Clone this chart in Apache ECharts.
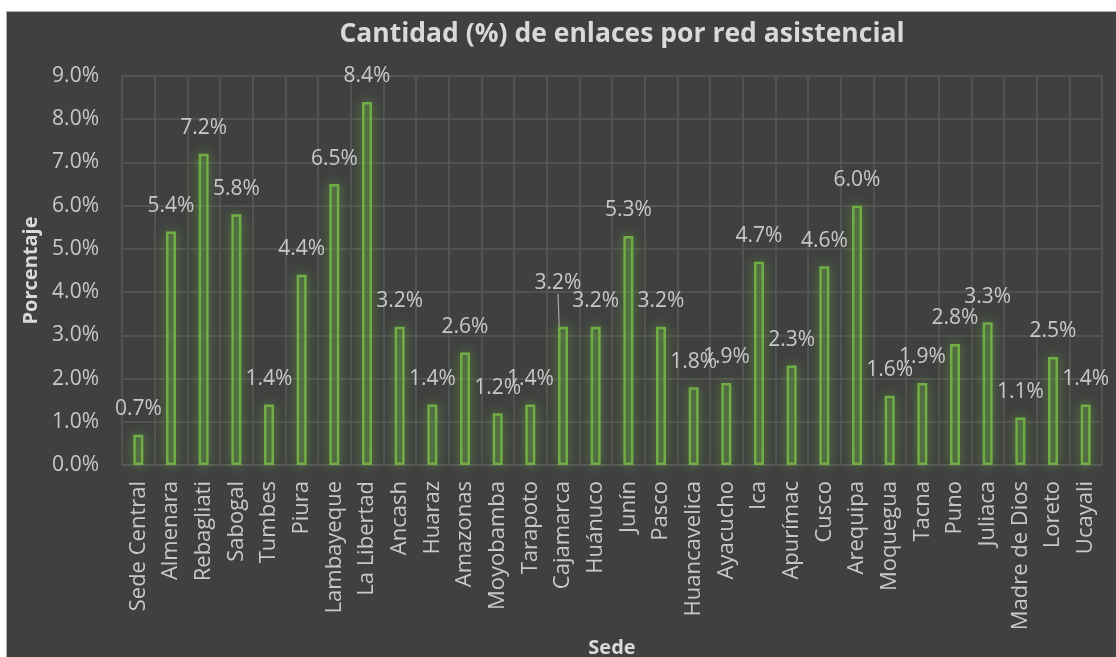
<!DOCTYPE html>
<html>
<head>
<meta charset="utf-8">
<script src="https://cdn.jsdelivr.net/npm/echarts@6/dist/echarts.min.js"></script>
<style>
  html, body { margin: 0; padding: 0; background: #ffffff; width: 1116px; height: 657px; overflow: hidden; }
  #panel { position: absolute; left: 6px; top: 11px; width: 1120px; height: 660px; background: #404040; border-left: 1px solid #b0b0b0; border-top: 1px solid #b0b0b0; }
  #chart { position: absolute; left: 0; top: 0; width: 1116px; height: 657px; }
</style>
</head>
<body>
<div id="panel"></div>
<div id="chart"></div>
<script>
const categories = ["Sede Central","Almenara","Rebagliati","Sabogal","Tumbes","Piura","Lambayeque","La Libertad","Ancash","Huaraz","Amazonas","Moyobamba","Tarapoto","Cajamarca","Huánuco","Junín","Pasco","Huancavelica","Ayacucho","Ica","Apurímac","Cusco","Arequipa","Moquegua","Tacna","Puno","Juliaca","Madre de Dios","Loreto","Ucayali"];
const percentages = [0.7,5.4,7.2,5.8,1.4,4.4,6.5,8.4,3.2,1.4,2.6,1.2,1.4,3.2,3.2,5.3,3.2,1.8,1.9,4.7,2.3,4.6,6.0,1.6,1.9,2.8,3.3,1.1,2.5,1.4];
const titleText = "Cantidad (%) de enlaces por red asistencial";
const xAxisTitle = "Sede";
const yAxisTitle = "Porcentaje";
const movedLabelCategory = "Cajamarca";

const chart = echarts.init(document.getElementById('chart'), null, { renderer: 'canvas' });
const font = '"Open Sans", sans-serif';
const textColor = '#c8c8c8';
const movedIndex = categories.indexOf(movedLabelCategory);
const barData = percentages.map((v, i) => i === movedIndex
  ? { value: v, labelLine: { show: true, lineStyle: { color: '#a6a6a6', width: 1.2 } } }
  : { value: v });

chart.setOption({
  backgroundColor: 'transparent',
  animation: false,
  title: {
    text: titleText,
    left: 617, top: 16, textAlign: 'center',
    textStyle: { color: '#d9d9d9', fontFamily: font, fontWeight: 'bold', fontSize: 26.5 }
  },
  grid: { left: 122, right: 14, top: 76, bottom: 192, containLabel: false, outerBoundsMode: 'none' },
  xAxis: {
    type: 'category',
    data: categories,
    name: xAxisTitle,
    nameLocation: 'middle',
    nameGap: 172,
    nameTextStyle: { color: '#d9d9d9', fontFamily: font, fontWeight: 'bold', fontSize: 20 },
    axisLine: { show: true, lineStyle: { color: '#595959', width: 1.5 } },
    axisTick: { show: false },
    splitLine: { show: true, lineStyle: { color: '#595959', width: 1.5 } },
    axisLabel: { rotate: 90, color: textColor, fontFamily: font, fontSize: 22, margin: 16, interval: 0 }
  },
  yAxis: {
    type: 'value',
    min: 0, max: 9, interval: 1,
    name: yAxisTitle,
    nameLocation: 'middle',
    nameGap: 78,
    nameTextStyle: { color: '#d9d9d9', fontFamily: font, fontWeight: 'bold', fontSize: 20 },
    axisLine: { show: false },
    axisTick: { show: false },
    splitLine: { show: true, lineStyle: { color: '#595959', width: 1.5 } },
    axisLabel: { color: textColor, fontFamily: font, fontSize: 21, margin: 23, formatter: v => v.toFixed(1) + '%' }
  },
  series: [{
    type: 'bar',
    data: barData,
    barWidth: 10,
    itemStyle: {
      color: 'rgba(112,173,71,0.2)',
      borderColor: '#70ad47',
      borderWidth: 2.5,
      shadowColor: 'rgba(112,173,71,0.85)',
      shadowBlur: 13
    },
    label: {
      show: true, position: 'top', distance: 15,
      color: textColor, fontFamily: font, fontSize: 21,
      formatter: p => p.value.toFixed(1) + '%'
    },
    labelLayout: p => p.dataIndex === movedIndex ? { dx: -5, dy: -18 } : {}
  }]
});
</script>
</body>
</html>
